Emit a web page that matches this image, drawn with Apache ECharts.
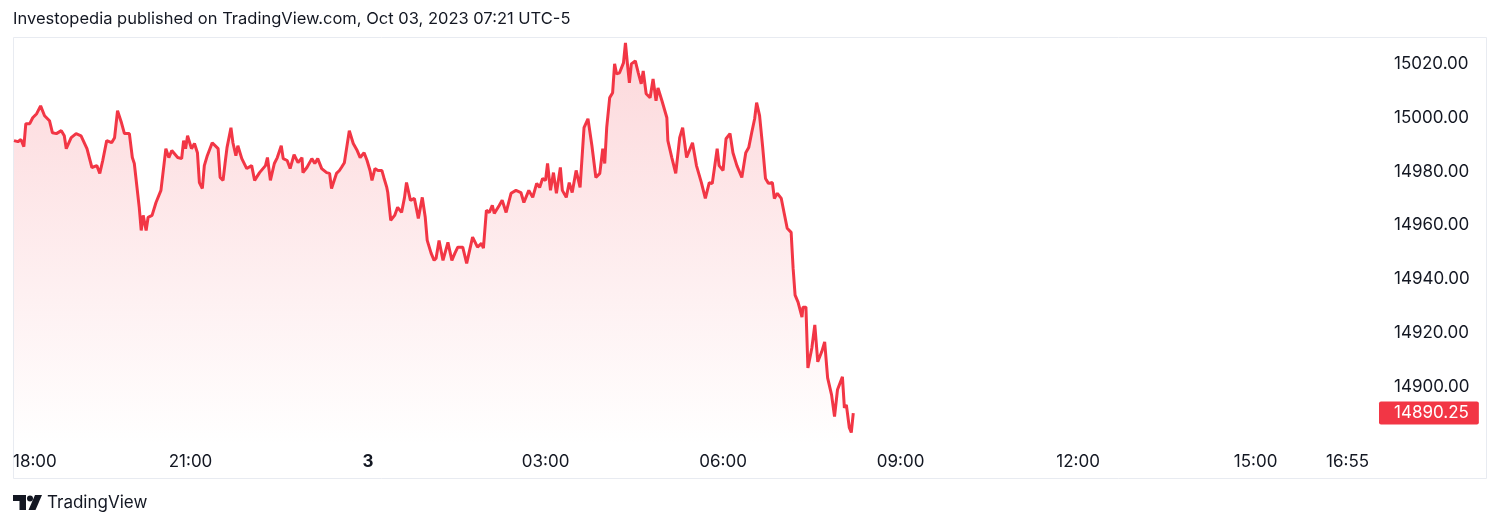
<!DOCTYPE html>
<html><head><meta charset="utf-8">
<script src="https://cdn.jsdelivr.net/npm/echarts@6/dist/echarts.min.js"></script>
<style>html,body{margin:0;padding:0;background:#fff}#c{width:1500px;height:527px}</style>
</head><body><div id="c"></div><script>
// minutes after 18:00 (Oct 02, exchange time)
const minutes = [1,5,8,11,13,17,20,24,28,32,37,40,44,49,52,54,59,64,69,75,80,85,88,91,95,100,103,106,110,113,118,121,123,128,130,132,135,137,141,145,147,150,155,158,161,167,171,173,175,177,181,184,187,189,192,194,197,202,208,210,213,215,217,221,223,226,228,232,237,242,245,250,256,258,261,265,268,272,274,278,281,285,289,293,294,298,303,306,309,313,318,321,323,328,331,333,336,341,345,349,352,356,359,362,364,367,370,374,376,379,380,383,387,390,394,397,399,403,407,411,415,418,420,424,427,429,432,436,441,445,448,451,456,460,466,471,475,477,480,483,486,488,493,496,500,505,510,515,518,523,527,531,534,537,540,542,545,548,551,555,557,561,564,567,571,575,579,583,587,591,595,598,600,602,605,608,610,612,615,619,621,623,625,627,631,634,637,639,642,646,649,652,654,658,663,664,668,672,676,679,683,689,693,698,702,706,709,714,716,720,723,727,730,734,739,743,746,749,752,754,757,760,763,766,770,772,775,779,782,785,789,791,793,796,800,801,804,806,810,813,816,820,823,826,830,833,836,841,843,845,848,850,852];
const prices = [14991.5,14991.1,14991.9,14989.25,14997.8,14997.8,15000,15001.5,15004.4,15000.75,14998.9,14994.4,14994.1,14995.2,14993.3,14988.5,14992.6,14994.1,14993.3,14988.5,14981.5,14982.2,14979.3,14984.1,14991.5,14990.7,14992.6,15002.6,14998.1,14994.1,14994.1,14985.2,14983,14966.7,14958.1,14963.7,14958.1,14963,14963.7,14968.5,14968.1,14973,14988.5,14985.2,14987.8,14985.2,14984.8,14991.5,14988.5,14993.3,14988.5,14990.4,14987,14975.9,14973.7,14982.2,14985.9,14990.7,14988.5,14977.8,14976.7,14983,14988.9,14996.3,14990.7,14985.9,14989.6,14984.8,14981.1,14982.2,14976.7,14979.6,14982.2,14985.2,14976.7,14983,14985.2,14989.6,14984.8,14984.1,14981.1,14986.3,14983.3,14985.2,14979.6,14981.5,14984.8,14983,14984.8,14981.1,14979.6,14979.3,14973.7,14979.3,14980.4,14981.5,14983.3,14995.2,14990.4,14987.8,14985.2,14987,14984.1,14980.4,14976.7,14981.1,14980.4,14980.4,14977.8,14974.1,14972.2,14961.9,14963.7,14966.7,14964.8,14970.4,14975.9,14969.3,14970,14962.6,14970.4,14963,14954.4,14949.6,14947,14947.8,14954.4,14947,14953.7,14947,14949.6,14951.9,14951.9,14945.9,14955.6,14951.9,14953.3,14951.5,14965.6,14964.8,14967.4,14964.4,14967.4,14969.3,14964.8,14971.9,14973,14972.2,14968.5,14973,14970.4,14975.6,14974.1,14977.4,14976.7,14983,14973,14979.6,14971.9,14981.5,14973,14970.4,14975.9,14972.2,14980.4,14974.1,14996.3,14999.6,14989.6,14977.8,14979.3,14988.5,14983,14996.3,15007.4,15009.3,15020,15016.3,15016.7,15020.4,15027.8,15020,15013,15020,15021.1,15016.7,15012.6,15017.4,15008.9,15007.4,15014.4,15006.3,15011.1,15006.3,15000,14991.5,14985.2,14979.3,14992.6,14996.3,14985.2,14990.7,14982.2,14975.9,14970,14975.9,14975.5,14988.5,14982.2,14980.4,14992.2,14994.1,14987,14982.2,14977.8,14987,14988.9,14994.4,14999.6,15005.6,15000.75,14989.6,14977.4,14975.6,14975.9,14970,14971.9,14970,14964.4,14958.9,14957.4,14944.1,14934.1,14931.5,14925.9,14929.6,14929.6,14907,14914.4,14923,14909.3,14913,14916.7,14903.3,14897,14888.9,14898.9,14903.7,14892.2,14893.3,14884.8,14883,14890.25];
const xTickMinutes = [0,180,360,540,720,900,1080,1260,1375];
const xTickLabels = ['18:00','21:00','3','03:00','06:00','09:00','12:00','15:00','16:55'];
const yTickValues = [14900,14920,14940,14960,14980,15000,15020];
const lastPrice = 14890.25;
const titleText = 'Investopedia published on TradingView.com, Oct 03, 2023 07:21 UTC-5';

const FONT = 'Inter, "Noto Sans", sans-serif';
const RED = '#f23645';
const TXT = '#131722';
const Y_MIN = 14878, Y_MAX = 15030;

const chart = echarts.init(document.getElementById('c'), null, {renderer: 'canvas'});
const seriesData = minutes.map((m, i) => [m, prices[i]]);

chart.setOption({
  backgroundColor: '#ffffff',
  animation: false,
  textStyle: {fontFamily: FONT},
  grid: {left: 13, right: 126, top: 37, bottom: 81, containLabel: false},
  graphic: [
    {type: 'text', left: 13, top: 11, style: {text: titleText, fontFamily: FONT, fontSize: 16.5, fill: TXT}},
    {type: 'rect', shape: {x: 13.5, y: 37.5, width: 1473, height: 441}, style: {fill: 'none', stroke: '#e8ebf1', lineWidth: 1}, silent: true, z: -1},
    // TradingView logo
    {type: 'polygon', shape: {points: [[13,495],[26,495],[26,510],[19.5,510],[19.5,501],[13,501]]}, style: {fill: TXT}},
    {type: 'circle', shape: {cx: 30, cy: 498.5, r: 3}, style: {fill: TXT}},
    {type: 'polygon', shape: {points: [[35,495],[42,495],[35.5,510],[28.5,510]]}, style: {fill: TXT}},
    {type: 'text', left: 47, top: 494, style: {text: 'TradingView', fontFamily: FONT, fontSize: 17, fill: TXT}}
  ],
  xAxis: {
    type: 'value', min: 0, max: 1380,
    axisLine: {show: false}, axisTick: {show: false}, splitLine: {show: false},
    axisLabel: {
      customValues: xTickMinutes,
      alignMinLabel: 'left', alignMaxLabel: 'right',
      margin: 7, fontSize: 17, color: TXT, fontFamily: FONT,
      formatter: function (v) {
        const i = xTickMinutes.indexOf(v);
        const t = i >= 0 ? xTickLabels[i] : '';
        return t === '3' ? '{b|3}' : t;
      },
      rich: {b: {fontWeight: 'bold', fontSize: 17, color: TXT, fontFamily: FONT}}
    }
  },
  yAxis: [{
    type: 'value', position: 'right', min: Y_MIN, max: Y_MAX,
    axisLine: {show: false}, axisTick: {show: false}, splitLine: {show: false},
    axisLabel: {
      customValues: yTickValues, margin: 20, fontSize: 17, color: TXT, fontFamily: FONT,
      formatter: v => v.toFixed(2)
    }
  }, {
    type: 'value', position: 'right', min: Y_MIN, max: Y_MAX,
    axisLine: {show: false}, axisTick: {show: false}, splitLine: {show: false},
    axisLabel: {
      customValues: [lastPrice], margin: 5, fontSize: 17, color: '#ffffff', fontFamily: FONT,
      formatter: v => v.toFixed(2),
      backgroundColor: RED, padding: [3, 10, 3, 15], borderRadius: 2, lineHeight: 17
    }
  }],
  series: [{
    type: 'line', data: seriesData, showSymbol: false, symbol: 'none', yAxisIndex: 0,
    lineStyle: {color: RED, width: 3},
    itemStyle: {color: RED},
    areaStyle: {
      origin: 'start',
      color: new echarts.graphic.LinearGradient(0, 0, 0, 1, [
        {offset: 0, color: 'rgba(242,54,69,0.28)'},
        {offset: 1, color: 'rgba(242,54,69,0.0)'}
      ])
    }
  }]
});
</script></body></html>
